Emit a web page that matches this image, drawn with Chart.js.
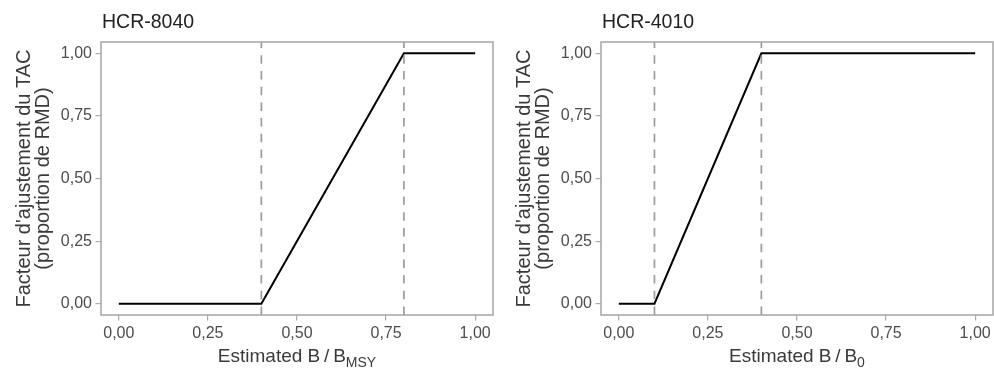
<!DOCTYPE html>
<html><head><meta charset="utf-8">
<script src="https://cdn.jsdelivr.net/npm/chart.js@4/dist/chart.umd.min.js"></script>
<style>
html,body{margin:0;padding:0;background:#fff;}
#wrap{position:relative;width:994px;height:371px;overflow:hidden;background:#fff;}
canvas{position:absolute;top:0;}
</style></head><body>
<div id="wrap">
<canvas id="c1" width="500" height="371" style="left:0px"></canvas>
<canvas id="c2" width="494" height="371" style="left:500px"></canvas>
</div>
<script>
// ---- data ----
const panelTitles = ['HCR-8040', 'HCR-4010'];
const hcr8040X = [0, 0.4, 0.8, 1];
const hcr8040Y = [0, 0, 1, 1];
const hcr8040Refs = [0.4, 0.8];
const hcr4010X = [0, 0.1, 0.4, 1];
const hcr4010Y = [0, 0, 1, 1];
const hcr4010Refs = [0.1, 0.4];
const tickValues = [0, 0.25, 0.5, 0.75, 1];
const tickLabels = ['0,00', '0,25', '0,50', '0,75', '1,00'];
const yTitleLines = ["Facteur d'ajustement du TAC", '(proportion de RMD)'];
const xTitleMain = ['Estimated B\u2009/\u2009B', 'Estimated B\u2009/\u2009B'];
const xTitleSub = ['MSY', '0'];

const FONT = "'Liberation Sans', Arial, sans-serif";
const X_RANGE = [-0.05, 1.05];
const Y_RANGE = [-0.045, 1.045];

function makeChart(id, idx, xs, ys, refs) {
  const datasets = [];
  refs.forEach(r => {
    datasets.push({
      data: Y_RANGE.map(y => ({x: r, y: y})),
      showLine: true, borderColor: '#9c9c9c', borderWidth: 1.7,
      borderDash: [8.5, 7.2], pointRadius: 0, clip: false
    });
  });
  datasets.push({
    data: xs.map((x, i) => ({x: x, y: ys[i]})),
    showLine: true, borderColor: '#000', borderWidth: 2,
    pointRadius: 0, tension: 0
  });

  const decor = {
    id: 'decor' + idx,
    afterDatasetsDraw(chart) {
      const a = chart.chartArea, ctx = chart.ctx;
      ctx.save();
      ctx.strokeStyle = '#ababab';
      ctx.lineWidth = 1.6;
      ctx.strokeRect(a.left, a.top, a.right - a.left, a.bottom - a.top);
      ctx.restore();
    },
    afterDraw(chart) {
      const a = chart.chartArea, ctx = chart.ctx;
      ctx.save();
      ctx.fillStyle = '#222';
      ctx.font = '19.5px ' + FONT;
      ctx.textBaseline = 'alphabetic';
      ctx.textAlign = 'left';
      ctx.fillText(panelTitles[idx], a.left + 1, 28);
      // x axis title with subscript
      ctx.fillStyle = '#3a3a3a';
      ctx.font = '19px ' + FONT;
      const mainW = ctx.measureText(xTitleMain[idx]).width;
      ctx.font = '14px ' + FONT;
      const subW = ctx.measureText(xTitleSub[idx]).width;
      const cx = (a.left + a.right) / 2;
      const x0 = cx - (mainW + subW) / 2;
      ctx.font = '19px ' + FONT;
      ctx.fillText(xTitleMain[idx], x0, 362);
      ctx.font = '14px ' + FONT;
      ctx.fillText(xTitleSub[idx], x0 + mainW, 367);
      ctx.restore();
    }
  };

  const tickCfg = {
    color: '#4d4d4d',
    font: {family: FONT, size: 16},
    callback: (v) => {
      const i = tickValues.findIndex(t => Math.abs(t - v) < 1e-9);
      return i >= 0 ? tickLabels[i] : '';
    }
  };
  const gridCfg = {display: true, drawOnChartArea: false, drawTicks: true, tickLength: 5.5, color: '#ababab', lineWidth: 1.2};

  return new Chart(document.getElementById(id), {
    type: 'scatter',
    data: {datasets},
    options: {
      responsive: false, animation: false, devicePixelRatio: 1,
      layout: {padding: {left: 0, right: idx === 0 ? 7 : 1, top: 42, bottom: 0}},
      plugins: {legend: {display: false}, tooltip: {enabled: false}},
      scales: {
        x: {
          type: 'linear', min: X_RANGE[0], max: X_RANGE[1],
          afterBuildTicks: s => { s.ticks = tickValues.map(v => ({value: v})); },
          afterFit: s => { s.height = 56; },
          grid: gridCfg, border: {display: false},
          ticks: Object.assign({padding: 3, maxRotation: 0, autoSkip: false}, tickCfg)
        },
        y: {
          type: 'linear', min: Y_RANGE[0], max: Y_RANGE[1],
          afterBuildTicks: s => { s.ticks = tickValues.map(v => ({value: v})); },
          afterFit: s => { s.width = 101; },
          grid: gridCfg, border: {display: false},
          ticks: Object.assign({padding: 3.5, autoSkip: false}, tickCfg),
          title: {
            display: true, text: yTitleLines, color: '#3a3a3a',
            font: {family: FONT, size: 20, lineHeight: 19.5 / 20},
            padding: {top: 14.5, bottom: 0}
          }
        }
      }
    },
    plugins: [decor]
  });
}

makeChart('c1', 0, hcr8040X, hcr8040Y, hcr8040Refs);
makeChart('c2', 1, hcr4010X, hcr4010Y, hcr4010Refs);
</script>
</body></html>
